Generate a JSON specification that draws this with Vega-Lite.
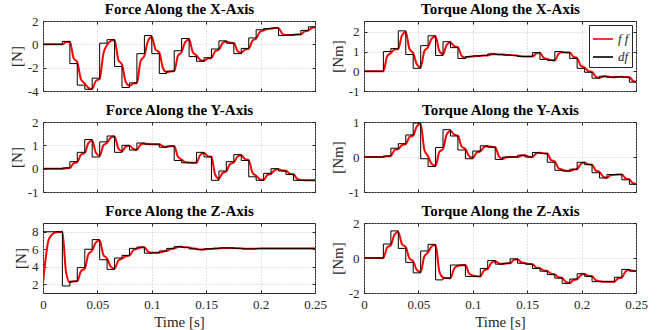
{
 "$schema": "https://vega.github.io/schema/vega-lite/v6.json",
 "background": "white",
 "padding": {"left": 8, "top": 1, "right": 5, "bottom": 0},
 "config": {
  "locale": {"number": {"decimal": ".", "thousands": ",", "grouping": [3], "currency": ["", ""], "minus": "-"}},
  "view": {"stroke": "#262626", "strokeWidth": 1},
  "axis": {"labelFont": "Liberation Serif", "labelFontSize": 13, "labelColor": "#262626", "titleFont": "Liberation Serif", "titleFontSize": 15, "titleFontWeight": "normal", "titleColor": "#262626", "domain": false, "tickColor": "#262626", "tickSize": -3, "labelPadding": 8, "titlePadding": 3, "labelOverlap": false, "labelFlush": false, "labelBound": false, "gridColor": "#b8b8b8", "gridDash": [1, 2], "gridWidth": 0.8, "format": "~g"},
  "axisY": {"tickCount": 12},
  "axisTop": {"labels": false, "grid": false, "titleFont": "Liberation Serif", "titleFontSize": 15, "titleFontWeight": "bold", "titleColor": "#000000", "titlePadding": 4},
  "axisRight": {"labels": false, "grid": false}
 },
 "datasets": {
  "df": [
   {"t":0,"fx":0,"tx":0,"fy":0,"ty":0,"fz":8,"tz":0},
   {"t":0.0178,"fx":0.25,"tx":1.0,"fy":0.03,"ty":0.03,"fz":1.8,"tz":0.8},
   {"t":0.0247,"fx":-1.65,"tx":1.15,"fy":0.3,"ty":0.25,"fz":2.35,"tz":1.55},
   {"t":0.0315,"fx":-3.5,"tx":2.05,"fy":0.7,"ty":0.38,"fz":3.9,"tz":0.55},
   {"t":0.0384,"fx":-3.85,"tx":0.85,"fy":1.25,"ty":0.63,"fz":6.0,"tz":-0.25},
   {"t":0.0452,"fx":-2.9,"tx":0.15,"fy":0.5,"ty":0.97,"fz":7.1,"tz":-0.85},
   {"t":0.0521,"fx":0.1,"tx":1.3,"fy":1.15,"ty":-0.05,"fz":4.8,"tz":0.4},
   {"t":0.0589,"fx":0.4,"tx":1.8,"fy":1.4,"ty":-0.27,"fz":3.7,"tz":0.78},
   {"t":0.0658,"fx":-1.9,"tx":0.8,"fy":0.7,"ty":0.27,"fz":5.0,"tz":-1.25},
   {"t":0.0726,"fx":-3.7,"tx":1.5,"fy":1.0,"ty":0.78,"fz":5.3,"tz":-1.15},
   {"t":0.0795,"fx":-3.3,"tx":1.2,"fy":0.8,"ty":0.6,"fz":6.1,"tz":-0.4},
   {"t":0.0863,"fx":-0.8,"tx":0.65,"fy":1.1,"ty":0.2,"fz":6.25,"tz":-0.4},
   {"t":0.0932,"fx":0.75,"tx":0.75,"fy":1.05,"ty":-0.05,"fz":5.55,"tz":-1.05},
   {"t":0.1000,"fx":-0.8,"tx":0.78,"fy":1.05,"ty":0.17,"fz":5.6,"tz":-1.05},
   {"t":0.1069,"fx":-2.5,"tx":0.8,"fy":0.92,"ty":0.32,"fz":5.8,"tz":-0.6},
   {"t":0.1137,"fx":-2.3,"tx":0.88,"fy":0.97,"ty":0.28,"fz":6.1,"tz":-0.15},
   {"t":0.1206,"fx":-0.55,"tx":0.85,"fy":0.35,"ty":-0.07,"fz":6.3,"tz":-0.35},
   {"t":0.1274,"fx":0.5,"tx":0.83,"fy":0.25,"ty":0,"fz":6.2,"tz":-0.3},
   {"t":0.1343,"fx":-1.05,"tx":0.8,"fy":0.25,"ty":0,"fz":6.05,"tz":-0.05},
   {"t":0.1411,"fx":-1.45,"tx":0.75,"fy":0.7,"ty":0.05,"fz":5.95,"tz":-0.3},
   {"t":0.1480,"fx":-1.15,"tx":0.75,"fy":0.5,"ty":0,"fz":6.05,"tz":-0.35},
   {"t":0.1548,"fx":-0.4,"tx":0.95,"fy":-0.5,"ty":0.13,"fz":6.1,"tz":-0.6},
   {"t":0.1617,"fx":0.3,"tx":0.6,"fy":-0.1,"ty":0.1,"fz":6.15,"tz":-0.75},
   {"t":0.1685,"fx":0.1,"tx":0.55,"fy":0.3,"ty":-0.15,"fz":6.15,"tz":-0.95},
   {"t":0.1754,"fx":-0.8,"tx":1.0,"fy":0.6,"ty":-0.38,"fz":6.1,"tz":-1.15},
   {"t":0.1822,"fx":-0.35,"tx":0.95,"fy":0.35,"ty":-0.4,"fz":6.05,"tz":-1.45},
   {"t":0.1891,"fx":0.55,"tx":0.65,"fy":-0.35,"ty":-0.35,"fz":6.05,"tz":-1.2},
   {"t":0.1959,"fx":1.25,"tx":0.15,"fy":-0.5,"ty":-0.15,"fz":6.1,"tz":-0.9},
   {"t":0.2028,"fx":1.35,"tx":-0.05,"fy":-0.2,"ty":-0.22,"fz":6.1,"tz":-1.05},
   {"t":0.2096,"fx":1.4,"tx":-0.35,"fy":0,"ty":-0.45,"fz":6.1,"tz":-1.35},
   {"t":0.2165,"fx":0.75,"tx":-0.25,"fy":-0.1,"ty":-0.6,"fz":6.1,"tz":-1.35},
   {"t":0.2233,"fx":0.8,"tx":-0.3,"fy":-0.25,"ty":-0.5,"fz":6.1,"tz":-1.35},
   {"t":0.2302,"fx":0.85,"tx":-0.28,"fy":-0.5,"ty":-0.5,"fz":6.1,"tz":-1.1},
   {"t":0.2370,"fx":1.2,"tx":-0.3,"fy":-0.5,"ty":-0.65,"fz":6.1,"tz":-0.65},
   {"t":0.2439,"fx":1.5,"tx":-0.55,"fy":-0.5,"ty":-0.78,"fz":6.1,"tz":-0.75},
   {"t":0.25,"fx":1.5,"tx":-0.55,"fy":-0.5,"ty":-0.78,"fz":6.1,"tz":-0.75}
  ],
  "ff": [
   {"t":0,"fx":0,"tx":0,"fy":0,"ty":0,"fz":2.1,"tz":0},
   {"t":0.0025,"fx":0,"tx":0,"fy":0,"ty":0,"fz":5.0,"tz":0},
   {"t":0.005,"fx":0,"tx":0,"fy":0,"ty":0,"fz":7.0,"tz":0},
   {"t":0.0085,"fx":0,"tx":0,"fy":0,"ty":0,"fz":7.7,"tz":0},
   {"t":0.012,"fx":0,"tx":0,"fy":0,"ty":0,"fz":7.95,"tz":0},
   {"t":0.0178,"fx":0,"tx":0,"fy":0,"ty":0,"fz":8.0,"tz":0},
   {"t":0.0212,"fx":0.19,"tx":0.75,"fy":0.02,"ty":0.02,"fz":3.35,"tz":0.6},
   {"t":0.0247,"fx":0.23,"tx":0.93,"fy":0.03,"ty":0.03,"fz":2.23,"tz":0.74},
   {"t":0.0281,"fx":-1.18,"tx":1.10,"fy":0.23,"ty":0.20,"fz":2.32,"tz":1.35},
   {"t":0.0315,"fx":-1.52,"tx":1.13,"fy":0.28,"ty":0.23,"fz":2.34,"tz":1.49},
   {"t":0.0349,"fx":-3.01,"tx":1.82,"fy":0.60,"ty":0.34,"fz":3.51,"tz":0.79},
   {"t":0.0384,"fx":-3.36,"tx":1.99,"fy":0.67,"ty":0.37,"fz":3.79,"tz":0.62},
   {"t":0.0418,"fx":-3.73,"tx":1.13,"fy":1.11,"ty":0.57,"fz":5.45,"tz":-0.03},
   {"t":0.0452,"fx":-3.82,"tx":0.93,"fy":1.21,"ty":0.61,"fz":5.85,"tz":-0.19},
   {"t":0.0486,"fx":-3.13,"tx":0.35,"fy":0.68,"ty":0.88,"fz":6.79,"tz":-0.69},
   {"t":0.0521,"fx":-2.96,"tx":0.20,"fy":0.55,"ty":0.94,"fz":7.01,"tz":-0.80},
   {"t":0.0555,"fx":-0.8,"tx":1.03,"fy":1.0,"ty":0.20,"fz":5.35,"tz":0.10},
   {"t":0.0589,"fx":-0.05,"tx":1.22,"fy":1.11,"ty":0.02,"fz":4.95,"tz":0.32},
   {"t":0.0623,"fx":0.29,"tx":1.66,"fy":1.33,"ty":-0.20,"fz":4.01,"tz":0.67},
   {"t":0.0658,"fx":0.37,"tx":1.76,"fy":1.38,"ty":-0.25,"fz":3.79,"tz":0.75},
   {"t":0.0692,"fx":-1.33,"tx":1.04,"fy":0.87,"ty":0.14,"fz":4.70,"tz":-0.75},
   {"t":0.0726,"fx":-1.74,"tx":0.87,"fy":0.75,"ty":0.23,"fz":4.92,"tz":-1.11},
   {"t":0.0760,"fx":-3.21,"tx":1.34,"fy":0.94,"ty":0.64,"fz":5.21,"tz":-1.14},
   {"t":0.0795,"fx":-3.56,"tx":1.46,"fy":0.98,"ty":0.74,"fz":5.27,"tz":-1.15},
   {"t":0.0829,"fx":-3.37,"tx":1.27,"fy":0.85,"ty":0.64,"fz":5.89,"tz":-0.59},
   {"t":0.0863,"fx":-3.32,"tx":1.22,"fy":0.81,"ty":0.61,"fz":6.04,"tz":-0.45},
   {"t":0.0897,"fx":-1.43,"tx":0.79,"fy":1.03,"ty":0.30,"fz":6.20,"tz":-0.41},
   {"t":0.0932,"fx":-0.98,"tx":0.69,"fy":1.08,"ty":0.23,"fz":6.24,"tz":-0.40},
   {"t":0.0966,"fx":0.32,"tx":0.74,"fy":1.06,"ty":0.02,"fz":5.72,"tz":-0.89},
   {"t":0.1000,"fx":0.63,"tx":0.75,"fy":1.05,"ty":-0.03,"fz":5.60,"tz":-1.0},
   {"t":0.1034,"fx":-0.44,"tx":0.77,"fy":1.05,"ty":0.12,"fz":5.6,"tz":-1.04},
   {"t":0.1069,"fx":-0.70,"tx":0.78,"fy":1.05,"ty":0.16,"fz":5.6,"tz":-1.05},
   {"t":0.1103,"fx":-2.05,"tx":0.80,"fy":0.95,"ty":0.28,"fz":5.75,"tz":-0.71},
   {"t":0.1137,"fx":-2.37,"tx":0.80,"fy":0.93,"ty":0.31,"fz":5.79,"tz":-0.63},
   {"t":0.1171,"fx":-2.32,"tx":0.86,"fy":0.96,"ty":0.29,"fz":6.02,"tz":-0.27},
   {"t":0.1206,"fx":-2.30,"tx":0.87,"fy":0.97,"ty":0.28,"fz":6.08,"tz":-0.18},
   {"t":0.1240,"fx":-0.99,"tx":0.85,"fy":0.51,"ty":0.02,"fz":6.25,"tz":-0.31},
   {"t":0.1274,"fx":-0.67,"tx":0.85,"fy":0.39,"ty":-0.05,"fz":6.29,"tz":-0.34},
   {"t":0.1308,"fx":0.21,"tx":0.83,"fy":0.28,"ty":-0.01,"fz":6.22,"tz":-0.31},
   {"t":0.1343,"fx":0.42,"tx":0.83,"fy":0.26,"ty":0,"fz":6.21,"tz":-0.30},
   {"t":0.1377,"fx":-0.68,"tx":0.81,"fy":0.25,"ty":0,"fz":6.09,"tz":-0.11},
   {"t":0.1411,"fx":-0.95,"tx":0.80,"fy":0.25,"ty":0,"fz":6.06,"tz":-0.07},
   {"t":0.1445,"fx":-1.33,"tx":0.76,"fy":0.59,"ty":0.04,"fz":5.97,"tz":-0.24},
   {"t":0.1480,"fx":-1.42,"tx":0.75,"fy":0.67,"ty":0.05,"fz":5.96,"tz":-0.28},
   {"t":0.1514,"fx":-1.22,"tx":0.75,"fy":0.54,"ty":0.01,"fz":6.03,"tz":-0.34},
   {"t":0.1548,"fx":-1.17,"tx":0.75,"fy":0.51,"ty":0,"fz":6.04,"tz":-0.35},
   {"t":0.1582,"fx":-0.59,"tx":0.90,"fy":-0.25,"ty":0.10,"fz":6.09,"tz":-0.54},
   {"t":0.1617,"fx":-0.45,"tx":0.94,"fy":-0.43,"ty":0.12,"fz":6.10,"tz":-0.58},
   {"t":0.1651,"fx":0.11,"tx":0.68,"fy":-0.18,"ty":0.105,"fz":6.14,"tz":-0.71},
   {"t":0.1685,"fx":0.25,"tx":0.62,"fy":-0.12,"ty":0.10,"fz":6.15,"tz":-0.74},
   {"t":0.1719,"fx":0.14,"tx":0.57,"fy":0.20,"ty":-0.09,"fz":6.15,"tz":-0.90},
   {"t":0.1754,"fx":0.11,"tx":0.55,"fy":0.27,"ty":-0.13,"fz":6.15,"tz":-0.94},
   {"t":0.1788,"fx":-0.57,"tx":0.89,"fy":0.52,"ty":-0.32,"fz":6.11,"tz":-1.10},
   {"t":0.1822,"fx":-0.74,"tx":0.97,"fy":0.58,"ty":-0.36,"fz":6.10,"tz":-1.14},
   {"t":0.1856,"fx":-0.45,"tx":0.955,"fy":0.41,"ty":-0.39,"fz":6.06,"tz":-1.37},
   {"t":0.1891,"fx":-0.38,"tx":0.95,"fy":0.37,"ty":-0.40,"fz":6.05,"tz":-1.43},
   {"t":0.1925,"fx":0.32,"tx":0.73,"fy":-0.17,"ty":-0.36,"fz":6.05,"tz":-1.26},
   {"t":0.1959,"fx":0.49,"tx":0.67,"fy":-0.30,"ty":-0.35,"fz":6.05,"tz":-1.22},
   {"t":0.1993,"fx":1.06,"tx":0.28,"fy":-0.45,"ty":-0.20,"fz":6.09,"tz":-0.98},
   {"t":0.2028,"fx":1.20,"tx":0.19,"fy":-0.49,"ty":-0.16,"fz":6.1,"tz":-0.92},
   {"t":0.2062,"fx":1.31,"tx":0.01,"fy":-0.27,"ty":-0.21,"fz":6.1,"tz":-1.02},
   {"t":0.2096,"fx":1.34,"tx":-0.03,"fy":-0.22,"ty":-0.22,"fz":6.1,"tz":-1.04},
   {"t":0.2130,"fx":1.39,"tx":-0.27,"fy":-0.06,"ty":-0.39,"fz":6.1,"tz":-1.27},
   {"t":0.2165,"fx":1.40,"tx":-0.33,"fy":-0.02,"ty":-0.43,"fz":6.1,"tz":-1.33},
   {"t":0.2199,"fx":0.91,"tx":-0.27,"fy":-0.08,"ty":-0.56,"fz":6.1,"tz":-1.35},
   {"t":0.2233,"fx":0.80,"tx":-0.26,"fy":-0.09,"ty":-0.59,"fz":6.1,"tz":-1.35},
   {"t":0.2267,"fx":0.80,"tx":-0.29,"fy":-0.21,"ty":-0.52,"fz":6.1,"tz":-1.35},
   {"t":0.2302,"fx":0.80,"tx":-0.30,"fy":-0.24,"ty":-0.51,"fz":6.1,"tz":-1.35},
   {"t":0.2336,"fx":0.84,"tx":-0.285,"fy":-0.44,"ty":-0.5,"fz":6.1,"tz":-1.16},
   {"t":0.2370,"fx":0.85,"tx":-0.28,"fy":-0.48,"ty":-0.5,"fz":6.1,"tz":-1.12},
   {"t":0.2404,"fx":1.11,"tx":-0.295,"fy":-0.5,"ty":-0.61,"fz":6.1,"tz":-0.77},
   {"t":0.2439,"fx":1.18,"tx":-0.30,"fy":-0.5,"ty":-0.64,"fz":6.1,"tz":-0.68},
   {"t":0.2473,"fx":1.42,"tx":-0.49,"fy":-0.5,"ty":-0.75,"fz":6.1,"tz":-0.73},
   {"t":0.25,"fx":1.47,"tx":-0.53,"fy":-0.5,"ty":-0.77,"fz":6.1,"tz":-0.74}
  ]
 },
 "resolve": {"scale": {"color": "independent"}, "legend": {"color": "independent"}},
 "bounds": "flush",
 "columns": 2,
 "spacing": {"row": 31, "column": 49},
 "concat": [
    {
     "width": 272, "height": 70,
     "resolve": {"axis": {"x": "independent", "y": "independent"}},
     "layer": [
      {"data": {"name": "ff"}, "mark": {"type": "line", "color": "#ff0000", "strokeWidth": 2, "interpolate": "monotone", "clip": true},
       "encoding": {"x": {"field": "t", "type": "quantitative", "scale": {"domain": [0, 0.25], "nice": false}, "axis": {"values": [0, 0.05, 0.1, 0.15, 0.2, 0.25], "labels": false, "title": null}},
                    "y": {"field": "fx", "type": "quantitative", "scale": {"domain": [-4, 2], "nice": false, "zero": false}, "axis": {"values": [-4, -2, 0, 2], "tickCount": 12, "title": "[N]"}}}},
      {"data": {"name": "df"}, "mark": {"type": "line", "color": "#000000", "strokeWidth": 1, "interpolate": "step-after", "clip": true},
       "encoding": {"x": {"field": "t", "type": "quantitative", "axis": {"orient": "top", "values": [0, 0.05, 0.1, 0.15, 0.2, 0.25], "title": "Force Along the X-Axis"}},
                    "y": {"field": "fx", "type": "quantitative", "axis": {"orient": "right", "values": [-4, -2, 0, 2], "tickCount": 12, "title": null}}}}
     ]
    },
    {
     "width": 272, "height": 70,
     "resolve": {"axis": {"x": "independent", "y": "independent"}},
     "layer": [
      {"data": {"name": "ff"}, "mark": {"type": "line", "strokeWidth": 2, "interpolate": "monotone", "clip": true},
       "encoding": {"x": {"field": "t", "type": "quantitative", "scale": {"domain": [0, 0.25], "nice": false}, "axis": {"values": [0, 0.05, 0.1, 0.15, 0.2, 0.25], "labels": false, "title": null}},
                    "y": {"field": "tx", "type": "quantitative", "scale": {"domain": [-1, 2.55], "nice": false, "zero": false}, "axis": {"values": [-1, 0, 1, 2], "tickCount": 12, "title": "[Nm]"}},
                    "color": {"datum": "ff", "type": "nominal", "scale": {"domain": ["ff", "df"], "range": ["#ff0000", "#000000"]},
                              "legend": {"orient": "top-right", "title": null, "offset": 4, "padding": 3, "fillColor": "white", "strokeColor": "#262626", "symbolType": "stroke", "symbolSize": 400, "symbolStrokeWidth": 1.6, "labelFont": "Liberation Serif", "labelFontStyle": "italic", "labelFontSize": 13, "labelColor": "#262626", "rowPadding": 0, "labelOffset": 4, "labelExpr": "datum.label == 'ff' ? 'f f' : datum.label"}}}},
      {"data": {"name": "df"}, "mark": {"type": "line", "strokeWidth": 1, "interpolate": "step-after", "clip": true},
       "encoding": {"x": {"field": "t", "type": "quantitative", "axis": {"orient": "top", "values": [0, 0.05, 0.1, 0.15, 0.2, 0.25], "title": "Torque Along the X-Axis"}},
                    "y": {"field": "tx", "type": "quantitative", "axis": {"orient": "right", "values": [-1, 0, 1, 2], "tickCount": 12, "title": null}},
                    "color": {"datum": "df", "type": "nominal"}}}
     ]
    },
    {
     "width": 272, "height": 70,
     "resolve": {"axis": {"x": "independent", "y": "independent"}},
     "layer": [
      {"data": {"name": "ff"}, "mark": {"type": "line", "color": "#ff0000", "strokeWidth": 2, "interpolate": "monotone", "clip": true},
       "encoding": {"x": {"field": "t", "type": "quantitative", "scale": {"domain": [0, 0.25], "nice": false}, "axis": {"values": [0, 0.05, 0.1, 0.15, 0.2, 0.25], "labels": false, "title": null}},
                    "y": {"field": "fy", "type": "quantitative", "scale": {"domain": [-1, 2], "nice": false, "zero": false}, "axis": {"values": [-1, 0, 1, 2], "tickCount": 12, "title": "[N]"}}}},
      {"data": {"name": "df"}, "mark": {"type": "line", "color": "#000000", "strokeWidth": 1, "interpolate": "step-after", "clip": true},
       "encoding": {"x": {"field": "t", "type": "quantitative", "axis": {"orient": "top", "values": [0, 0.05, 0.1, 0.15, 0.2, 0.25], "title": "Force Along the Y-Axis"}},
                    "y": {"field": "fy", "type": "quantitative", "axis": {"orient": "right", "values": [-1, 0, 1, 2], "tickCount": 12, "title": null}}}}
     ]
    },
    {
     "width": 272, "height": 70,
     "resolve": {"axis": {"x": "independent", "y": "independent"}},
     "layer": [
      {"data": {"name": "ff"}, "mark": {"type": "line", "color": "#ff0000", "strokeWidth": 2, "interpolate": "monotone", "clip": true},
       "encoding": {"x": {"field": "t", "type": "quantitative", "scale": {"domain": [0, 0.25], "nice": false}, "axis": {"values": [0, 0.05, 0.1, 0.15, 0.2, 0.25], "labels": false, "title": null}},
                    "y": {"field": "ty", "type": "quantitative", "scale": {"domain": [-1, 1], "nice": false, "zero": false}, "axis": {"values": [-1, 0, 1], "tickCount": 12, "title": "[Nm]"}}}},
      {"data": {"name": "df"}, "mark": {"type": "line", "color": "#000000", "strokeWidth": 1, "interpolate": "step-after", "clip": true},
       "encoding": {"x": {"field": "t", "type": "quantitative", "axis": {"orient": "top", "values": [0, 0.05, 0.1, 0.15, 0.2, 0.25], "title": "Torque Along the Y-Axis"}},
                    "y": {"field": "ty", "type": "quantitative", "axis": {"orient": "right", "values": [-1, 0, 1], "tickCount": 12, "title": null}}}}
     ]
    },
    {
     "width": 272, "height": 70,
     "resolve": {"axis": {"x": "independent", "y": "independent"}},
     "layer": [
      {"data": {"name": "ff"}, "mark": {"type": "line", "color": "#ff0000", "strokeWidth": 2, "interpolate": "monotone", "clip": true},
       "encoding": {"x": {"field": "t", "type": "quantitative", "scale": {"domain": [0, 0.25], "nice": false}, "axis": {"values": [0, 0.05, 0.1, 0.15, 0.2, 0.25], "title": "Time [s]"}},
                    "y": {"field": "fz", "type": "quantitative", "scale": {"domain": [1, 9], "nice": false, "zero": false}, "axis": {"values": [2, 4, 6, 8], "tickCount": 12, "title": "[N]"}}}},
      {"data": {"name": "df"}, "mark": {"type": "line", "color": "#000000", "strokeWidth": 1, "interpolate": "step-after", "clip": true},
       "encoding": {"x": {"field": "t", "type": "quantitative", "axis": {"orient": "top", "values": [0, 0.05, 0.1, 0.15, 0.2, 0.25], "title": "Force Along the Z-Axis"}},
                    "y": {"field": "fz", "type": "quantitative", "axis": {"orient": "right", "values": [2, 4, 6, 8], "tickCount": 12, "title": null}}}}
     ]
    },
    {
     "width": 272, "height": 70,
     "resolve": {"axis": {"x": "independent", "y": "independent"}},
     "layer": [
      {"data": {"name": "ff"}, "mark": {"type": "line", "color": "#ff0000", "strokeWidth": 2, "interpolate": "monotone", "clip": true},
       "encoding": {"x": {"field": "t", "type": "quantitative", "scale": {"domain": [0, 0.25], "nice": false}, "axis": {"values": [0, 0.05, 0.1, 0.15, 0.2, 0.25], "title": "Time [s]"}},
                    "y": {"field": "tz", "type": "quantitative", "scale": {"domain": [-2, 2], "nice": false, "zero": false}, "axis": {"values": [-2, 0, 2], "tickCount": 12, "title": "[Nm]"}}}},
      {"data": {"name": "df"}, "mark": {"type": "line", "color": "#000000", "strokeWidth": 1, "interpolate": "step-after", "clip": true},
       "encoding": {"x": {"field": "t", "type": "quantitative", "axis": {"orient": "top", "values": [0, 0.05, 0.1, 0.15, 0.2, 0.25], "title": "Torque Along the Z-Axis"}},
                    "y": {"field": "tz", "type": "quantitative", "axis": {"orient": "right", "values": [-2, 0, 2], "tickCount": 12, "title": null}}}}
     ]
    }
 ]
}
